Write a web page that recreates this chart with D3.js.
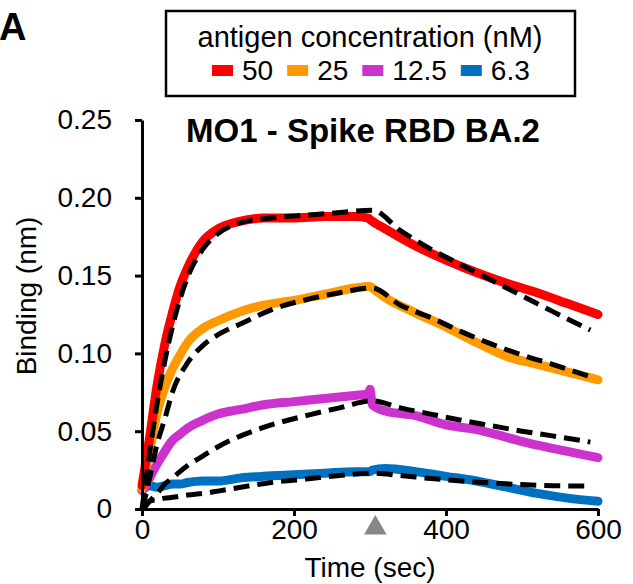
<!DOCTYPE html>
<html>
<head>
<meta charset="utf-8">
<script src="https://cdn.jsdelivr.net/npm/d3@7"></script>
<style>
  body { margin: 0; background: #fff; }
  svg { display: block; font-family: "Liberation Sans", Arial, sans-serif; }
</style>
</head>
<body>
<div id="chart"></div>
<script>
const timeSec = [0, 5, 10, 20, 30, 40, 50, 60, 80, 100, 130, 160, 200, 240, 280, 298, 300, 303, 320, 360, 400, 440, 480, 520, 560, 600];
const conc50 = [0.015, 0.030, 0.046, 0.080, 0.106, 0.126, 0.143, 0.155, 0.172, 0.180, 0.185, 0.187, 0.187, 0.188, 0.188, 0.187, 0.186, 0.185, 0.180, 0.169, 0.160, 0.152, 0.145, 0.139, 0.132, 0.125];
const conc25 = [0.013, 0.026, 0.037, 0.062, 0.078, 0.090, 0.099, 0.107, 0.116, 0.121, 0.127, 0.131, 0.134, 0.138, 0.142, 0.143, 0.143, 0.142, 0.136, 0.126, 0.117, 0.107, 0.098, 0.093, 0.088, 0.083];
const conc12 = [0.012, 0.015, 0.020, 0.029, 0.037, 0.044, 0.048, 0.052, 0.057, 0.061, 0.064, 0.067, 0.069, 0.071, 0.073, 0.074, 0.077, 0.067, 0.063, 0.060, 0.054, 0.051, 0.046, 0.041, 0.037, 0.033];
const conc6 = [0.012, 0.014, 0.015, 0.014, 0.015, 0.016, 0.016, 0.017, 0.018, 0.018, 0.020, 0.021, 0.022, 0.023, 0.024, 0.024, 0.024, 0.025, 0.026, 0.024, 0.021, 0.018, 0.014, 0.010, 0.007, 0.005];

// fitted curves (dashed)
const fitTimeSec = [0, 5, 10, 20, 30, 40, 60, 80, 100, 130, 170, 220, 260, 303, 340, 380, 420, 460, 500, 540, 590];
const fit50 = [0, 0.018, 0.036, 0.068, 0.095, 0.117, 0.149, 0.167, 0.177, 0.184, 0.187, 0.189, 0.1905, 0.192, 0.179, 0.167, 0.157, 0.147, 0.137, 0.127, 0.115];
const fit25 = [0, 0.009, 0.020, 0.042, 0.058, 0.075, 0.094, 0.105, 0.112, 0.119, 0.128, 0.135, 0.139, 0.142, 0.131, 0.123, 0.114, 0.106, 0.099, 0.093, 0.085];
const fit12 = [0, 0.002, 0.005, 0.010, 0.016, 0.020, 0.028, 0.034, 0.040, 0.047, 0.054, 0.0605, 0.065, 0.0695, 0.065, 0.061, 0.057, 0.0535, 0.050, 0.047, 0.043];
const fit6 = [0, 0.003, 0.005, 0.006, 0.007, 0.0075, 0.009, 0.010, 0.0115, 0.014, 0.017, 0.0195, 0.0215, 0.023, 0.0215, 0.0196, 0.018, 0.0167, 0.0157, 0.015, 0.0147];

const concLabels = ["50", "25", "12.5", "6.3"];
const concColors = ["#ff0000", "#ff9900", "#cc33cc", "#0070c0"];
const yTicks = [0, 0.05, 0.10, 0.15, 0.20, 0.25];
const yTickLabels = ["0", "0.05", "0.10", "0.15", "0.20", "0.25"];
const xTicks = [0, 200, 400, 600];
const dissocStart = 307; // grey triangle

const W = 633, H = 584;
const svg = d3.select("#chart").append("svg")
  .attr("width", W).attr("height", H);

const x = d3.scaleLinear().domain([0, 600]).range([142, 598]);
const y = d3.scaleLinear().domain([0, 0.25]).range([509, 120]);

// measured traces
const measured = [conc50, conc25, conc12, conc6];
const line = d3.line()
  .x(d => x(d[0])).y(d => y(d[1]))
  .curve(d3.curveMonotoneX);

[3, 2, 1, 0].forEach(i => {
  svg.append("path")
    .datum(timeSec.map((t, j) => [t, measured[i][j]]))
    .attr("d", line)
    .attr("fill", "none")
    .attr("stroke", concColors[i])
    .attr("stroke-width", 9)
    .attr("stroke-linejoin", "round")
    .attr("stroke-linecap", "round");
});

// fits
const fits = [fit50, fit25, fit12, fit6];
fits.forEach(f => {
  svg.append("path")
    .datum(fitTimeSec.map((t, j) => [t, f[j]]))
    .attr("d", line)
    .attr("fill", "none")
    .attr("stroke", "#000")
    .attr("stroke-width", 5)
    .attr("stroke-dasharray", "16,8");
});

// axes
const yAxis = svg.append("g")
  .attr("transform", `translate(${x(0)},0)`)
  .call(d3.axisLeft(y).tickValues(yTicks)
    .tickFormat((d, i) => yTickLabels[i])
    .tickSizeInner(7).tickSizeOuter(0).tickPadding(23));
const xAxis = svg.append("g")
  .attr("transform", `translate(0,${y(0)})`)
  .call(d3.axisBottom(x).tickValues(xTicks)
    .tickSizeInner(7).tickSizeOuter(0).tickPadding(3));

[yAxis, xAxis].forEach(a => {
  a.select(".domain").attr("stroke", "#000").attr("stroke-width", 3);
  a.selectAll(".tick line").attr("stroke", "#000").attr("stroke-width", 3);
  a.selectAll(".tick text")
    .attr("fill", "#000")
    .style("font-size", "28px")
    .style("font-family", "'Liberation Sans', Arial, sans-serif");
});

// triangle marking start of dissociation
svg.append("path")
  .attr("d", d3.symbol().type(d3.symbolTriangle).size(220))
  .attr("transform", `translate(${x(dissocStart)},${y(0) + 19})`)
  .attr("fill", "#888");

// labels
svg.append("text")
  .attr("x", 370).attr("y", 577)
  .attr("text-anchor", "middle")
  .style("font-size", "28px")
  .text("Time (sec)");

svg.append("text")
  .attr("transform", "translate(36,296) rotate(-90)")
  .attr("text-anchor", "middle")
  .style("font-size", "28px")
  .text("Binding (nm)");

svg.append("text")
  .attr("x", 363).attr("y", 142)
  .attr("text-anchor", "middle")
  .style("font-size", "33px")
  .style("font-weight", "bold")
  .text("MO1 - Spike RBD BA.2");

svg.append("text")
  .attr("x", -1).attr("y", 40)
  .style("font-size", "38px")
  .style("font-weight", "bold")
  .text("A");

// legend
const legend = svg.append("g");
legend.append("rect")
  .attr("x", 166).attr("y", 11)
  .attr("width", 409).attr("height", 85)
  .attr("fill", "#fff")
  .attr("stroke", "#000")
  .attr("stroke-width", 2.5);
legend.append("text")
  .attr("x", 370).attr("y", 47)
  .attr("text-anchor", "middle")
  .style("font-size", "29px")
  .text("antigen concentration (nM)");

let lx = 212;
concLabels.forEach((lab, i) => {
  legend.append("rect")
    .attr("x", lx).attr("y", 65)
    .attr("width", 21).attr("height", 11)
    .attr("fill", concColors[i]);
  const t = legend.append("text")
    .attr("x", lx + 30).attr("y", 80)
    .style("font-size", "28px")
    .text(lab);
  lx += 30 + t.node().getComputedTextLength() + 14;
});
</script>
</body>
</html>
